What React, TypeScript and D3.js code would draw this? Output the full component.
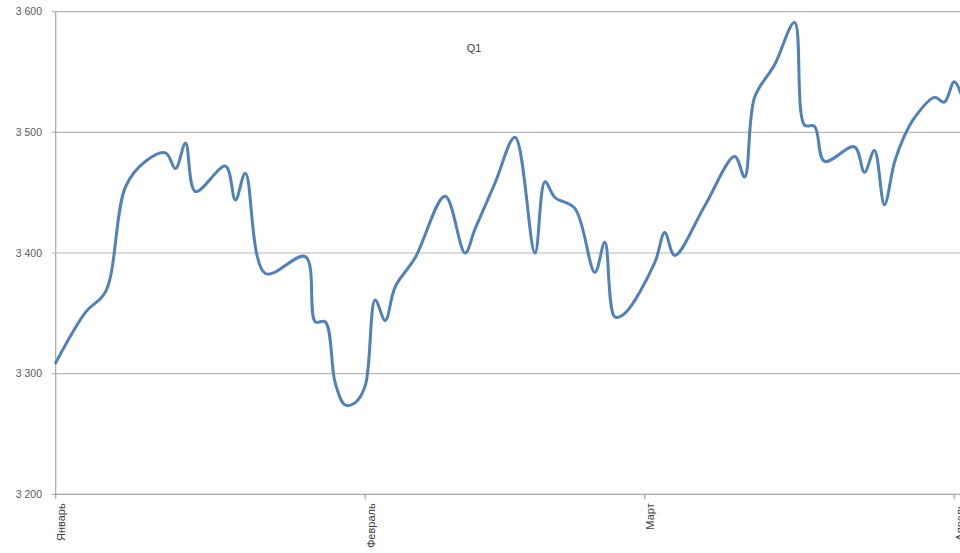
import React, { useEffect } from "react";
import * as d3 from "d3";

// ---- data ----
const year = 2021;
const title = "Q1";
const monthLabels = ["Январь", "Февраль", "Март", "Апрель"];
const monthStarts = [0, 1, 2, 3];
const yTicks = [3200, 3300, 3400, 3500, 3600];

// day offset from 1 January
const dayOffsets = [
  0, 3, 5, 7, 9, 11, 12, 13, 14, 17, 18, 19, 21, 25, 26, 27, 28, 29, 30, 31,
  32, 33, 34, 36, 39, 41, 42, 44, 46, 48, 49, 50, 52, 54, 55, 56, 57, 60, 61,
  62, 65, 68, 69, 70, 72, 74, 75, 76, 77, 80, 81, 82, 83, 84, 85, 86, 88, 89,
  90, 91,
];
const values = [
  3309, 3351, 3368, 3455, 3476, 3483, 3470, 3491, 3451, 3472, 3444, 3466, 3383,
  3397, 3343, 3343, 3292, 3274, 3276, 3290, 3361, 3344, 3372, 3396, 3447, 3400,
  3420, 3458, 3496, 3400, 3459, 3446, 3437, 3384, 3409, 3347, 3350, 3392, 3417,
  3398, 3439, 3480, 3463, 3529, 3556, 3591, 3506, 3505, 3476, 3488, 3467, 3485,
  3440, 3475, 3497, 3512, 3529, 3525, 3542, 3524,
];

const W = 960;
const H = 553;

export default function App() {
  useEffect(() => {
    document.body.style.margin = "0";
  }, []);

  const start = new Date(year, 0, 1);
  const end = new Date(year, 3, 1);
  const x = d3.scaleTime().domain([start, end]).range([55.7, 954.3]);
  const y = d3.scaleLinear().domain([3200, 3600]).range([494.3, 11.7]);

  const points = dayOffsets.map((d, i) => ({
    date: d3.timeDay.offset(start, d),
    value: values[i],
  }));

  const line = d3
    .line<{ date: Date; value: number }>()
    .x((p) => x(p.date))
    .y((p) => y(p.value))
    .curve(d3.curveCatmullRom.alpha(0.5));

  const months = monthStarts.map((m) => new Date(year, m, 1));
  const fmt = (v: number) => d3.format(",")(v).replace(",", " ");
  const x0 = x(start);

  return (
    <svg
      width={W}
      height={H}
      style={{ position: "absolute", left: 0, top: 0, display: "block" }}
      fontFamily="'Liberation Sans', Arial, sans-serif"
    >
      <rect x={0} y={0} width={W} height={H} fill="#ffffff" />
      {/* gridlines */}
      {yTicks.map((t) => (
        <g key={t}>
          <line
            x1={x0 - 4}
            x2={W}
            y1={y(t)}
            y2={y(t)}
            stroke={t === 3200 ? "#a6a6a6" : "#b8b8b8"}
            strokeWidth={1.2}
          />
          <text
            x={42}
            y={y(t)}
            dy="0.35em"
            textAnchor="end"
            fontSize={10.5}
            fill="#595959"
          >
            {fmt(t)}
          </text>
        </g>
      ))}
      {/* y axis */}
      <line x1={x0} x2={x0} y1={y(3600)} y2={y(3200)} stroke="#a6a6a6" strokeWidth={1.2} />
      {/* x ticks and labels */}
      {months.map((m, i) => (
        <g key={i}>
          <line
            x1={x(m)}
            x2={x(m)}
            y1={y(3200)}
            y2={y(3200) + 5}
            stroke="#a6a6a6"
            strokeWidth={1.2}
          />
          <text
            transform={`translate(${x(m) + 5.5},${y(3200) + 9}) rotate(-90)`}
            textAnchor="end"
            dy="0.35em"
            fontSize={11}
            fill="#404040"
          >
            {monthLabels[i]}
          </text>
        </g>
      ))}
      {/* series */}
      <path
        d={line(points) || ""}
        fill="none"
        stroke="#4F81BD"
        strokeWidth={3}
        strokeLinejoin="round"
        strokeLinecap="round"
      />
      {/* title */}
      <text x={474} y={48} dy="0.35em" textAnchor="middle" fontSize={11} fill="#404040">
        {title}
      </text>
    </svg>
  );
}
